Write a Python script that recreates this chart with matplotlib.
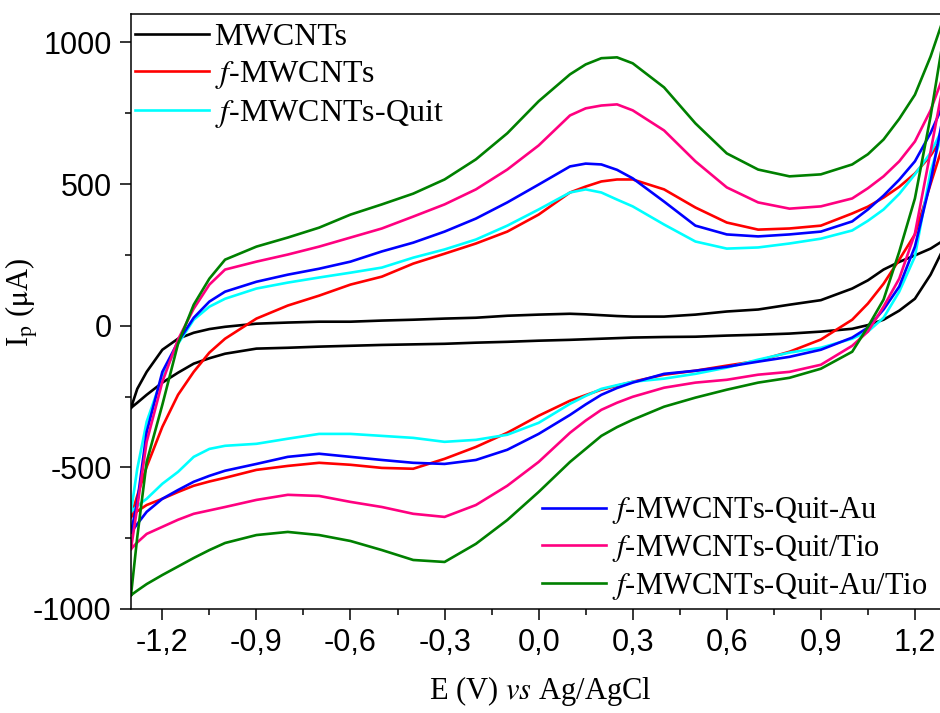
import numpy as np
import matplotlib
matplotlib.use('Agg')
import matplotlib.pyplot as plt
from matplotlib.ticker import FixedLocator, FuncFormatter

plt.rcParams['mathtext.fontset'] = 'stix'

# potential grid (V vs Ag/AgCl), used for forward (anodic) and reverse (cathodic) scans
E = [-1.30, -1.28, -1.25, -1.20, -1.15, -1.10, -1.05, -1.00, -0.90, -0.80, -0.70, -0.60,
     -0.50, -0.40, -0.30, -0.20, -0.10, 0.00, 0.10, 0.15, 0.20, 0.25, 0.30, 0.40,
     0.50, 0.60, 0.70, 0.80, 0.90, 1.00, 1.05, 1.10, 1.15, 1.20, 1.25, 1.29]

# current (uA), upper branch = forward scan, lower branch = reverse scan
mwcnt_up = [-290, -223, -163, -85, -46, -25, -12, -4, 7, 11, 14, 14,
            18, 21, 25, 28, 35, 39, 42, 40, 37, 34, 32, 32,
            39, 50, 57, 74, 90, 131, 160, 198, 225, 248, 272, 300]
mwcnt_dn = [-290, -272, -244, -201, -166, -134, -115, -99, -81, -78, -74, -71,
            -68, -66, -64, -60, -57, -53, -50, -48, -46, -44, -42, -40,
            -39, -35, -32, -28, -21, -11, 2, 21, 53, 95, 180, 270]

f_up = [-675, -600, -498, -357, -244, -163, -95, -46, 25, 71, 106, 145,
        173, 219, 254, 290, 332, 392, 470, 491, 509, 516, 516, 481,
        417, 364, 339, 343, 353, 396, 420, 452, 490, 537, 600, 670]
f_dn = [-675, -655, -633, -611, -587, -565, -550, -537, -509, -495, -484, -491,
        -502, -505, -470, -428, -378, -318, -265, -245, -226, -212, -198, -173,
        -159, -141, -124, -92, -49, 21, 78, 148, 233, 322, 500, 640]

quit_up = [-657, -505, -339, -180, -64, 21, 67, 95, 131, 152, 170, 187,
           205, 240, 269, 304, 353, 410, 470, 481, 470, 445, 421, 357,
           297, 272, 276, 290, 307, 336, 370, 410, 465, 534, 610, 700]
quit_dn = [-657, -636, -611, -558, -516, -463, -435, -424, -417, -399, -382, -382,
           -389, -396, -410, -403, -385, -343, -276, -248, -223, -210, -198, -187,
           -170, -148, -120, -95, -78, -46, -21, 28, 120, 244, 544, 690]

au_up = [-730, -622, -375, -163, -57, 28, 85, 120, 155, 180, 201, 226,
         262, 293, 332, 378, 435, 498, 562, 572, 569, 550, 520, 438,
         353, 322, 315, 322, 332, 368, 410, 459, 515, 580, 680, 780]
au_dn = [-730, -700, -657, -611, -580, -551, -530, -512, -488, -463, -452, -463,
         -474, -484, -488, -474, -438, -382, -315, -278, -244, -220, -201, -170,
         -159, -145, -127, -110, -85, -42, -7, 57, 138, 279, 509, 740]

tio_up = [-788, -640, -410, -198, -49, 60, 145, 198, 226, 251, 279, 311,
          343, 385, 428, 481, 551, 636, 742, 767, 777, 781, 760, 689,
          580, 488, 435, 413, 421, 449, 485, 527, 580, 650, 760, 880]
tio_dn = [-788, -765, -735, -710, -685, -664, -652, -640, -615, -597, -601, -622,
          -640, -664, -675, -633, -565, -481, -378, -335, -297, -272, -251, -219,
          -201, -191, -173, -163, -138, -71, -21, 67, 166, 325, 615, 850]

autio_up = [-951, -746, -481, -279, -64, 74, 166, 233, 279, 311, 346, 392,
            428, 466, 516, 587, 679, 792, 887, 922, 944, 947, 926, 841,
            714, 608, 551, 527, 534, 569, 605, 657, 730, 815, 950, 1080]
autio_dn = [-951, -935, -912, -880, -850, -820, -792, -767, -739, -728, -739, -760,
            -792, -827, -834, -770, -686, -587, -481, -435, -389, -358, -332, -286,
            -254, -226, -201, -184, -152, -92, -4, 92, 261, 449, 739, 1010]

labels = ['MWCNTs', r'$\it{f}$-MWCNTs', r'$\it{f}$-MWCNTs-Quit',
          r'$\it{f}$-MWCNTs-Quit-Au', r'$\it{f}$-MWCNTs-Quit/Tio', r'$\it{f}$-MWCNTs-Quit-Au/Tio']
colors = ['black', '#ff0000', '#00ffff', '#0000ff', '#ff0080', '#008000']
ups = [mwcnt_up, f_up, quit_up, au_up, tio_up, autio_up]
dns = [mwcnt_dn, f_dn, quit_dn, au_dn, tio_dn, autio_dn]

xticks = [-1.2, -0.9, -0.6, -0.3, 0.0, 0.3, 0.6, 0.9, 1.2]
yticks = [-1000, -500, 0, 500, 1000]

fig = plt.figure(figsize=(9.4, 7.13), dpi=100)
ax = fig.add_axes([131/940, 1 - 609/713, 1 - 131/940, (609 - 14)/713])

lines = []
for up, dn, c, lab in zip(ups, dns, colors, labels):
    x = np.concatenate([E, E[::-1]])
    y = np.concatenate([up, dn[::-1]])
    ln, = ax.plot(x, y, color=c, lw=1.9, label=lab)
    lines.append(ln)

ax.set_xlim(-1.3, 1.28)
ax.set_ylim(-1000, 1100)
ax.spines['right'].set_visible(False)
for s in ['left', 'bottom', 'top']:
    ax.spines[s].set_linewidth(1.1)

ax.xaxis.set_major_locator(FixedLocator(xticks))
ax.xaxis.set_minor_locator(FixedLocator([t + 0.15 for t in [-1.35] + xticks]))
ax.yaxis.set_major_locator(FixedLocator(yticks))
ax.yaxis.set_minor_locator(FixedLocator([t + 250 for t in [-1250] + yticks]))
ax.xaxis.set_major_formatter(FuncFormatter(lambda v, p: f'{v:.1f}'.replace('.', ',')))
ax.yaxis.set_major_formatter(FuncFormatter(lambda v, p: f'{v:.0f}'))
ax.tick_params(which='major', direction='out', length=8, width=1.1, labelsize=22, pad=6,
               top=False, right=False)
ax.tick_params(which='minor', direction='out', length=4.5, width=1.1, top=False, right=False)
for t in ax.get_xticklabels() + ax.get_yticklabels():
    t.set_fontfamily('Liberation Sans')

ax.set_xlabel(r'E (V) $\it{vs}$ Ag/AgCl', fontsize=22, family='Liberation Serif')
ax.set_ylabel(r'I$_\mathrm{p}$ ($\mathrm{\mu}$A)', fontsize=22, family='Liberation Serif')
ax.xaxis.set_label_coords(0.506, -0.11)
ax.yaxis.set_label_coords(-0.112, 0.516)

leg_kw = dict(frameon=False, handletextpad=0.19, labelspacing=0.22,
              borderpad=0, borderaxespad=0)
leg1 = ax.legend(handles=lines[:3], loc='upper left', bbox_to_anchor=(0.005, 0.985),
                 prop={'family': 'Liberation Serif', 'size': 23}, handlelength=2.3, **leg_kw)
ax.add_artist(leg1)
ax.legend(handles=lines[3:], loc='lower left', bbox_to_anchor=(0.508, 0.012),
          prop={'family': 'Liberation Serif', 'size': 22}, handlelength=2.1, **leg_kw)

plt.savefig('out.png', dpi=100)
plt.close()
